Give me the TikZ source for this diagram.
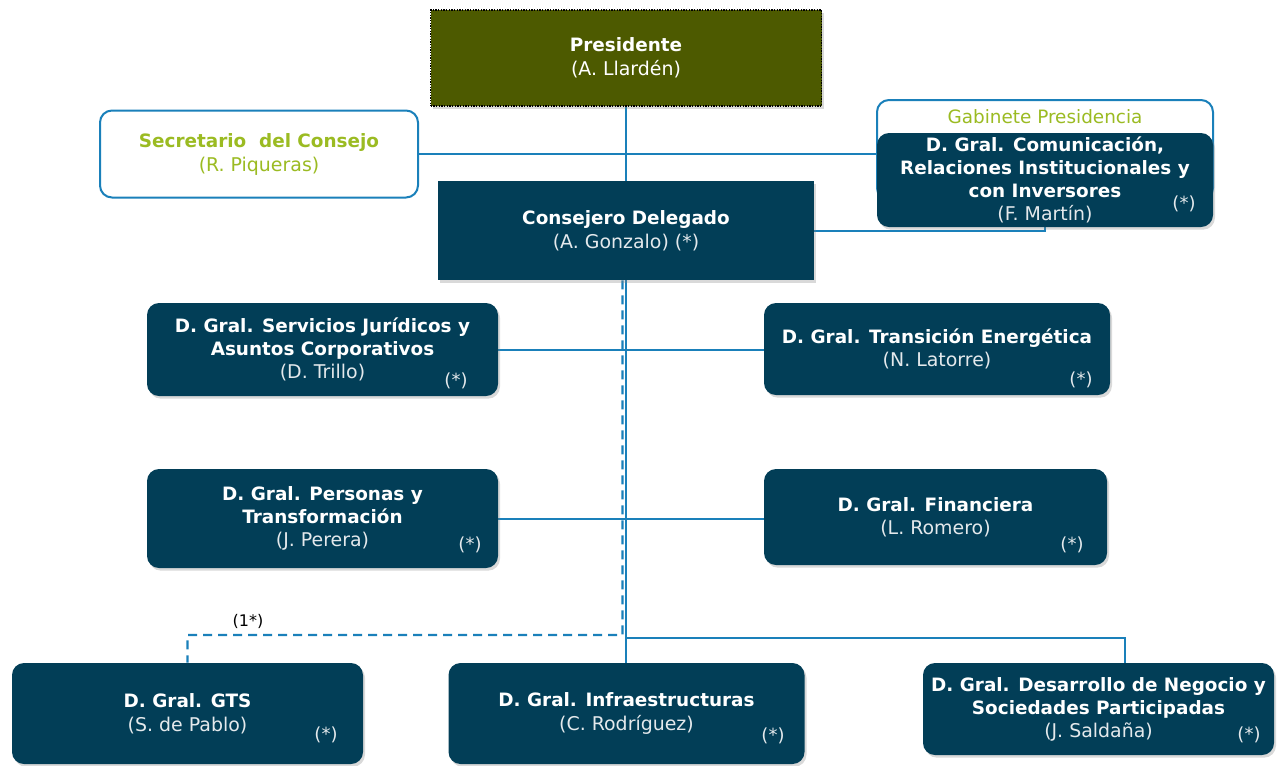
\documentclass[tikz,border=0pt]{standalone}
\usepackage{fontspec}
\setmainfont{DejaVu Sans}
\usetikzlibrary{shadows,backgrounds}
\definecolor{navy}{HTML}{023E57}
\definecolor{lineblue}{HTML}{1A80BA}
\definecolor{olivebox}{HTML}{4D5A00}
\definecolor{lgreen}{HTML}{9BBB22}
\definecolor{namegray}{HTML}{E4E9EC}
\newcommand\nmtxt[1]{{\mdseries\fontsize{14.2}{17.25}\selectfont #1}}
\tikzset{
  basefont/.style={font=\fontsize{13.8}{17.25}\selectfont\bfseries},
  widefont/.style={font=\fontsize{13.8}{18}\selectfont\bfseries},
  shad/.style={drop shadow={opacity=0.3, shadow xshift=1.5pt, shadow yshift=-2pt}},
  box/.style={rectangle, rounded corners=9pt, fill=navy, inner sep=0pt, align=center, text=white, basefont, shad},
  sqbox/.style={box, rounded corners=0pt},
  presbox/.style={rectangle, fill=olivebox, draw=black, densely dotted, line width=1pt, inner sep=0pt, align=center, text=white, widefont, shad},
  whitebox/.style={rectangle, rounded corners=9pt, fill=white, draw=lineblue, line width=1.5pt, inner sep=0pt, align=center, text=lgreen, basefont},
  star/.style={font=\fontsize{13.5}{15}\selectfont, text=namegray, inner sep=0pt},
  conn/.style={draw=lineblue, line width=1.5pt},
  dconn/.style={draw=lineblue, line width=1.6pt, dash pattern=on 6.75pt off 4.5pt},
}
\begin{document}
\begin{tikzpicture}[x=0.75pt,y=-0.75pt]
\useasboundingbox (0,0) rectangle (1278,765);

% boxes
\node[presbox, minimum width=293.25pt, minimum height=72pt, text depth=2pt] (pres) at (626,58) {Presidente\\\nmtxt{(A. Llardén)}};
\node[whitebox, widefont, minimum width=238.5pt, minimum height=65.25pt] (sec) at (259,154) {Secretario\ \ del Consejo\\\nmtxt{(R. Piqueras)}};
\node[whitebox, minimum width=252pt, minimum height=75pt] (gab) at (1045,150) {};
\node[text=lgreen, inner sep=0pt, font=\fontsize{13.8}{17.25}\selectfont] (gabt) at (1045,117) {Gabinete Presidencia};
\node[box, minimum width=252pt, minimum height=70.5pt] (com) at (1045,180) {D. Gral. Comunicación,\\Relaciones Institucionales y\\con Inversores\\\nmtxt{\color{namegray}(F. Martín)}};
\node[sqbox, widefont, minimum width=282pt, minimum height=74.25pt] (cons) at (626,230.5) {Consejero Delegado\\\nmtxt{\color{namegray}(A. Gonzalo) (*)}};
\node[box, minimum width=263.25pt, minimum height=69.75pt] (sj) at (322.5,349.5) {D. Gral. Servicios Jurídicos y\\Asuntos Corporativos\\\nmtxt{\color{namegray}(D. Trillo)}};
\node[box, minimum width=259.5pt, minimum height=69pt] (te) at (937,349) {D. Gral. Transición Energética\\\nmtxt{\color{namegray}(N. Latorre)}};
\node[box, minimum width=263.25pt, minimum height=74.25pt] (pt) at (322.5,518.5) {D. Gral. Personas y\\Transformación\\\nmtxt{\color{namegray}(J. Perera)}};
\node[box, minimum width=257.25pt, minimum height=72pt] (fin) at (935.5,517) {D. Gral. Financiera\\\nmtxt{\color{namegray}(L. Romero)}};
\node[box, widefont, minimum width=263.25pt, minimum height=75.75pt] (gts) at (187.5,713.5) {D. Gral. GTS\\\nmtxt{\color{namegray}(S. de Pablo)}};
\node[box, widefont, minimum width=267pt, minimum height=75.75pt] (inf) at (626.5,713.5) {D. Gral. Infraestructuras\\\nmtxt{\color{namegray}(C. Rodríguez)}};
\node[box, minimum width=263.25pt, minimum height=69pt] (des) at (1098.5,709) {D. Gral. Desarrollo de Negocio y\\Sociedades Participadas\\\nmtxt{\color{namegray}(J. Saldaña)}};

% (*) markers
\node[star] (s1) at (1184,204) {(*)};
\node[star] (s2) at (456,381) {(*)};
\node[star] (s3) at (1081,380) {(*)};
\node[star] (s4) at (470,545) {(*)};
\node[star] (s5) at (1072,545) {(*)};
\node[star] (s6) at (326,735) {(*)};
\node[star] (s7) at (773,736) {(*)};
\node[star] (s8) at (1249,735) {(*)};
\node[font=\rmfamily\fontsize{12}{14}\selectfont, inner sep=0pt] (note) at (248,621) {(1*)};

% connectors
\begin{scope}[on background layer]
\coordinate (dtop) at ([xshift=-2.6pt]cons.south);
\coordinate (dj) at (622.5,635);
\draw[dconn] (dtop) -- (dj) -| (gts.north);
\draw[conn] (pres.south) -- (pres.south |- inf.north);
\draw[conn] (sec.east) -- (sec.east -| com.west);
\draw[conn] (cons.east) -| (com.south);
\draw[conn] (sj.east) -- (sj.east -| te.west);
\draw[conn] (pt.east) -- (pt.east -| fin.west);
\coordinate (j3) at (626,637.5);
\draw[conn] (j3) -| ([xshift=19.9pt]des.north);
\end{scope}
\end{tikzpicture}
\end{document}
